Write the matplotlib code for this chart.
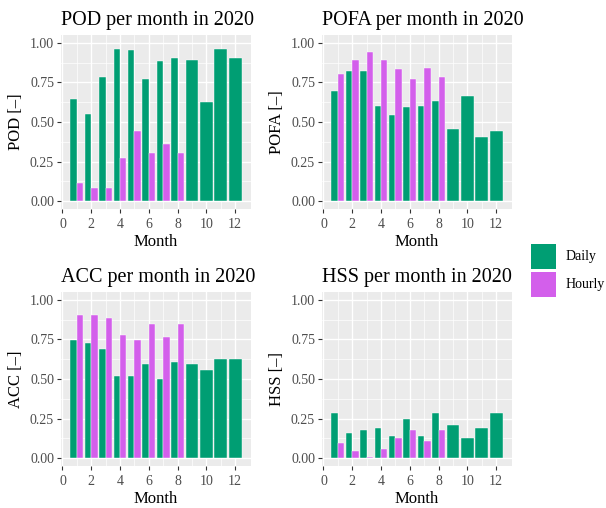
import matplotlib
matplotlib.use("Agg")
import matplotlib.pyplot as plt
import numpy as np
from matplotlib.patches import Rectangle

# Monthly verification scores for 2020
months = np.arange(1, 13)
hourly_months = np.arange(1, 9)

pod_daily = [0.647, 0.552, 0.786, 0.964, 0.958, 0.774, 0.888, 0.907, 0.894, 0.628, 0.964, 0.907]
pod_hourly = [0.114, 0.082, 0.082, 0.273, 0.444, 0.304, 0.362, 0.304]

pofa_daily = [0.696, 0.823, 0.823, 0.601, 0.544, 0.595, 0.601, 0.633, 0.456, 0.665, 0.405, 0.443]
pofa_hourly = [0.804, 0.892, 0.943, 0.892, 0.835, 0.772, 0.842, 0.785]

acc_daily = [0.749, 0.730, 0.692, 0.521, 0.521, 0.597, 0.502, 0.610, 0.597, 0.559, 0.629, 0.629]
acc_hourly = [0.907, 0.907, 0.888, 0.781, 0.749, 0.850, 0.768, 0.850]

hss_daily = [0.282, 0.161, 0.180, 0.193, 0.142, 0.250, 0.142, 0.282, 0.212, 0.129, 0.193, 0.282]
hss_hourly = [0.097, 0.047, 0.008, 0.059, 0.129, 0.180, 0.110, 0.180]

metrics = ["POD", "POFA", "ACC", "HSS"]
daily_values = [pod_daily, pofa_daily, acc_daily, hss_daily]
hourly_values = [pod_hourly, pofa_hourly, acc_hourly, hss_hourly]

series_labels = ["Daily", "Hourly"]
series_colors = ["#009E73", "#D35FEB"]

plt.rcParams["font.family"] = ["Liberation Serif", "DejaVu Serif"]

W, H = 606, 508
fig = plt.figure(figsize=(W / 100, H / 100), dpi=100)

# panel boxes in pixels: (left, top, right, bottom)
boxes = [(61, 35, 251, 209), (322, 35, 512, 209),
         (61, 292, 251, 466), (322, 292, 512, 466)]

dodge = 0.9
for box, name, dv, hv in zip(boxes, metrics, daily_values, hourly_values):
    l, t, r, b = box
    ax = fig.add_axes([l / W, (H - b) / H, (r - l) / W, (b - t) / H])
    ax.set_facecolor("#EBEBEB")
    n_h = len(hv)
    # dodged positions: two bars where hourly exists, one full-width bar otherwise
    d_x = [m - dodge / 4 if i < n_h else m for i, m in enumerate(months)]
    d_w = [dodge / 2 if i < n_h else dodge for i in range(len(months))]
    ax.bar(d_x, dv, width=d_w, color=series_colors[0], edgecolor="white",
           linewidth=0.3, zorder=3)
    ax.bar(hourly_months + dodge / 4, hv, width=dodge / 2, color=series_colors[1],
           edgecolor="white", linewidth=0.3, zorder=3)

    ax.set_xlim(-0.1, 13.1)
    ax.set_ylim(-0.05, 1.05)
    ax.set_xticks(np.arange(0, 13, 2))
    ax.set_xticks(np.arange(1, 13, 2), minor=True)
    ax.set_yticks([0, 0.25, 0.5, 0.75, 1.0])
    ax.set_yticklabels(["0.00", "0.25", "0.50", "0.75", "1.00"])
    ax.set_yticks([0.125, 0.375, 0.625, 0.875], minor=True)
    ax.grid(which="major", color="white", linewidth=1.0, zorder=0)
    ax.grid(which="minor", color="white", linewidth=0.5, zorder=0)
    ax.set_axisbelow(True)
    for s in ax.spines.values():
        s.set_visible(False)
    ax.tick_params(which="major", length=3, width=0.8, color="#333333",
                   labelcolor="#4D4D4D", labelsize=10, pad=2)
    ax.tick_params(axis="x", which="major", pad=3.5)
    ax.tick_params(which="minor", length=0)
    ax.set_xlabel("Month", fontsize=12, labelpad=2)
    ax.set_ylabel(f"{name} [–]", fontsize=12, labelpad=4)
    ax.set_title(f"{name} per month in 2020", loc="left", fontsize=14.5, pad=7)

# legend
leg_x = 531
for i, (lab, col) in enumerate(zip(series_labels, series_colors)):
    top = 244 + i * 28
    fig.add_artist(Rectangle((leg_x / W, (H - top - 25) / H), 25 / W, 25 / H,
                             transform=fig.transFigure, facecolor=col,
                             edgecolor="none"))
    fig.text(566 / W, (H - top - 12.5) / H, lab, fontsize=10, va="center",
             ha="left")

fig.savefig("out.png", dpi=100)
